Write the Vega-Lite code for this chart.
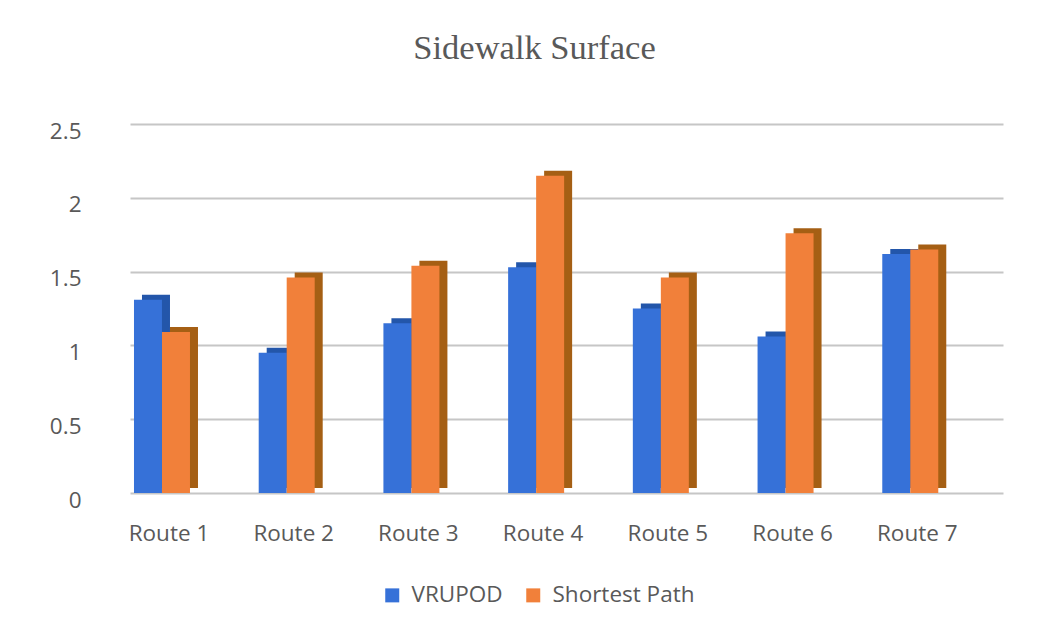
{
  "$schema": "https://vega.github.io/schema/vega-lite/v6.json",
  "autosize": "none",
  "width": 873,
  "height": 369,
  "padding": {"left": 130, "top": 124, "right": 48, "bottom": 141},
  "background": "white",
  "config": {"view": {"stroke": null}},
  "title": {
    "text": "Sidewalk Surface",
    "font": "Liberation Serif",
    "fontSize": 34.5,
    "fontWeight": "normal",
    "color": "#595959",
    "frame": "group",
    "anchor": "middle",
    "dx": -32,
    "baseline": "alphabetic",
    "offset": 27
  },
  "data": {
    "values": [
      {"route": "Route 1", "series": "VRUPOD", "value": 1.31},
      {"route": "Route 1", "series": "Shortest Path", "value": 1.09},
      {"route": "Route 2", "series": "VRUPOD", "value": 0.95},
      {"route": "Route 2", "series": "Shortest Path", "value": 1.46},
      {"route": "Route 3", "series": "VRUPOD", "value": 1.15},
      {"route": "Route 3", "series": "Shortest Path", "value": 1.54},
      {"route": "Route 4", "series": "VRUPOD", "value": 1.53},
      {"route": "Route 4", "series": "Shortest Path", "value": 2.15},
      {"route": "Route 5", "series": "VRUPOD", "value": 1.25},
      {"route": "Route 5", "series": "Shortest Path", "value": 1.46},
      {"route": "Route 6", "series": "VRUPOD", "value": 1.06},
      {"route": "Route 6", "series": "Shortest Path", "value": 1.76},
      {"route": "Route 7", "series": "VRUPOD", "value": 1.62},
      {"route": "Route 7", "series": "Shortest Path", "value": 1.65}
    ]
  },
  "encoding": {
    "x": {
      "field": "route",
      "type": "nominal",
      "title": null,
      "scale": {"paddingInner": 0.551, "paddingOuter": 0.2755, "align": 0.058},
      "axis": {
        "domain": false,
        "ticks": false,
        "tickSize": 0,
        "grid": false,
        "labelAngle": 0,
        "labelFont": "Open Sans",
        "labelFontSize": 22.5,
        "labelColor": "#595959",
        "labelBaseline": "alphabetic",
        "labelPadding": 47,
        "labelOffset": 7
      }
    },
    "y": {
      "field": "value",
      "type": "quantitative",
      "title": null,
      "scale": {"domain": [0, 2.5], "nice": false},
      "axis": {
        "values": [0, 0.5, 1, 1.5, 2, 2.5],
        "format": "~g",
        "domain": false,
        "ticks": false,
        "tickSize": 0,
        "grid": true,
        "gridColor": "#c6c6c6",
        "gridWidth": 2,
        "labelFont": "Open Sans",
        "labelFontSize": 22.5,
        "labelColor": "#595959",
        "labelPadding": 49,
        "labelOffset": 7
      }
    }
  },
  "layer": [
    {
      "mark": {"type": "bar", "yOffset": -5, "y2Offset": -5},
      "encoding": {
        "xOffset": {
          "field": "series",
          "type": "nominal",
          "sort": ["VRUPOD", "Shortest Path"],
          "scale": {"range": [8, 64], "paddingInner": 0, "paddingOuter": 0}
        },
        "color": {
          "field": "series",
          "type": "nominal",
          "scale": {"domain": ["VRUPOD", "Shortest Path"], "range": ["#2356AA", "#A55F14"]},
          "legend": null
        }
      }
    },
    {
      "mark": {"type": "bar"},
      "encoding": {
        "xOffset": {
          "field": "series",
          "type": "nominal",
          "sort": ["VRUPOD", "Shortest Path"],
          "scale": {"paddingInner": 0, "paddingOuter": 0}
        },
        "color": {
          "field": "series",
          "type": "nominal",
          "scale": {"domain": ["VRUPOD", "Shortest Path"], "range": ["#3671D8", "#F1803A"]},
          "legend": {
            "title": null,
            "orient": "none",
            "direction": "horizontal",
            "legendX": 251,
            "legendY": 460,
            "padding": 0,
            "symbolType": "square",
            "symbolSize": 196,
            "symbolStrokeWidth": 0,
            "labelFont": "Open Sans",
            "labelFontSize": 22.5,
            "labelColor": "#595959",
            "labelOffset": 8,
            "columnPadding": 19
          }
        }
      }
    }
  ],
  "resolve": {"scale": {"color": "independent", "xOffset": "independent"}}
}
